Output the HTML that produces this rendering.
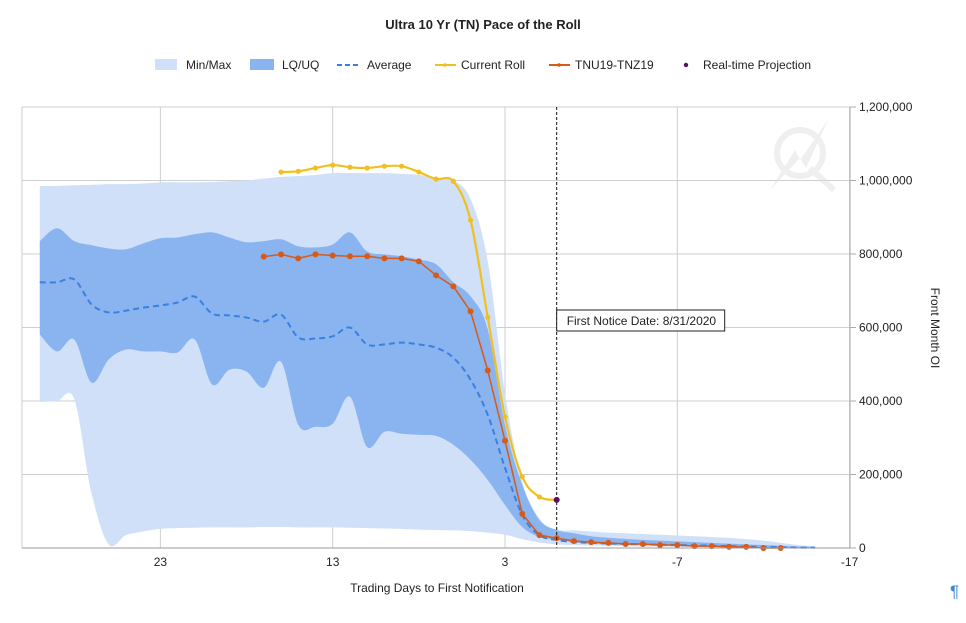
<!DOCTYPE html>
<html><head><meta charset="utf-8"><style>
body{margin:0;background:#fff;font-family:"Liberation Sans",Arial,sans-serif}
svg text{font-family:"Liberation Sans",Arial,sans-serif}
</style></head><body>
<svg id="c" width="966" height="618" xmlns="http://www.w3.org/2000/svg">
<text x="483" y="29" text-anchor="middle" font-size="13" font-weight="bold" fill="#222">Ultra 10 Yr (TN) Pace of the Roll</text>
<g id="legend" font-size="12" fill="#222">
<g><rect x="155" y="59" width="22" height="11" fill="#cfe0f8"/><text x="186" y="69">Min/Max</text></g>
<g><rect x="250" y="59" width="24" height="11" fill="#8ab4f0"/><text x="282" y="69">LQ/UQ</text></g>
<g><line x1="337" y1="65" x2="361" y2="65" stroke="#3a80e0" stroke-width="2" stroke-dasharray="5,3"/><text x="367" y="69">Average</text></g>
<g><line x1="435" y1="65" x2="456" y2="65" stroke="#f0c020" stroke-width="2"/><circle cx="445" cy="65" r="1.8" fill="#f0c020"/><text x="461" y="69">Current Roll</text></g>
<g><line x1="549" y1="65" x2="570" y2="65" stroke="#d85a18" stroke-width="2"/><circle cx="559" cy="65" r="1.8" fill="#d85a18"/><text x="575" y="69">TNU19-TNZ19</text></g>
<g><circle cx="686" cy="65" r="2.2" fill="#5a1060"/><text x="703" y="69">Real-time Projection</text></g>
</g>
<g id="grid"></g>
<g opacity="0.45">
<circle cx="800" cy="153" r="23" fill="none" stroke="#ddd" stroke-width="6"/>
<path d="M770 190 L795 150 L800 160 L828 120 L806 168 L800 158 Z" fill="#ddd"/>
<line x1="810" y1="168" x2="834" y2="190" stroke="#ddd" stroke-width="6"/>
</g>
<g id="plot"></g>
<g id="axes"></g>
<text x="437" y="592" text-anchor="middle" font-size="12" fill="#222">Trading Days to First Notification</text>
<text transform="translate(931,328) rotate(90)" text-anchor="middle" font-size="12" fill="#222">Front Month OI</text>
<text x="950" y="597" font-size="17" fill="#3a8ad0">¶</text>
</svg>
<script>
const days=[30,29,28,27,26,25,24,23,22,21,20,19,18,17,16,15,14,13,12,11,10,9,8,7,6,5,4,3,2,1,0,-1,-2,-3,-4,-5,-6,-7,-8,-9,-10,-11,-12,-13,-14,-15];
const maxV=[985,985,987,988,990,990,992,995,995,995,996,998,1000,1005,1010,1012,1015,1020,1020,1020,1020,1018,1015,1008,1000,950,780,420,180,80,50,48,45,42,40,38,36,34,32,30,28,24,20,14,8,4];
const minV=[397,400,405,150,10,35,45,52,54,55,56,56,56,57,57,56,56,56,55,54,53,52,50,49,48,46,42,36,24,15,10,8,7,6,5,4,4,3,3,2,2,1,1,1,0,0];
const uqV=[835,870,835,824,815,813,829,843,845,854,859,845,832,835,840,821,818,826,859,807,799,794,785,772,723,685,595,335,172,76,49,40,32,28,25,22,20,18,16,14,12,10,8,6,4,3];
const lqV=[581,535,567,450,513,540,535,535,532,567,445,485,480,436,507,335,330,338,412,275,316,311,308,305,281,240,185,117,57,30,22,15,12,10,9,8,7,6,5,4,3,3,2,1,1,0];
const avgV=[723,723,731,663,641,646,654,660,668,684,638,633,627,616,635,573,570,576,600,554,554,559,554,545,518,458,362,218,90,35,22,16,14,12,11,10,9,8,7,6,5,4,3,2,1,1];
const rollDays=[17,16,15,14,13,12,11,10,9,8,7,6,5,4,3,2,1,0,-1,-2,-3,-4,-5,-6,-7,-8,-9,-10,-11,-12,-13];
const rollV=[793,799,788,799,796,794,794,788,788,780,742,712,644,483,292,93,35,27,19,16,14,11,11,8,8,5,5,3,3,0,0];
const curDays=[16,15,14,13,12,11,10,9,8,7,6,5,4,3,2,1];
const curV=[1023,1025,1034,1042,1036,1034,1039,1039,1023,1004,998,892,627,357,194,139];
const projDays=[0];
const projV=[131];
const yTicks=[0,200000,400000,600000,800000,1000000,1200000];
const xTicks=[23,13,3,-7,-17];
const noticeDay=0;

const X0=22,X1=850,Y0=548,Y1=107;
const x=d=>505+(3-d)*17.23;
const y=v=>Y0-(v*1000)/1200000*(Y0-Y1);
const yRaw=v=>Y0-v/1200000*(Y0-Y1);
const NS="http://www.w3.org/2000/svg";
function mk(tag,attrs,parent){const e=document.createElementNS(NS,tag);for(const k in attrs)e.setAttribute(k,attrs[k]);parent.appendChild(e);return e;}
function smooth(pts){let d=`M${pts[0][0]},${pts[0][1]}`;for(let i=0;i<pts.length-1;i++){const p0=pts[Math.max(0,i-1)],p1=pts[i],p2=pts[i+1],p3=pts[Math.min(pts.length-1,i+2)];const c1=[p1[0]+(p2[0]-p0[0])/6,p1[1]+(p2[1]-p0[1])/6],c2=[p2[0]-(p3[0]-p1[0])/6,p2[1]-(p3[1]-p1[1])/6];d+=` C${c1[0]},${c1[1]} ${c2[0]},${c2[1]} ${p2[0]},${p2[1]}`;}return d;}
function smoothCont(pts){return smooth(pts).replace(/^M/,'L');}
const grid=document.getElementById('grid'),plot=document.getElementById('plot'),axes=document.getElementById('axes');
yTicks.forEach(t=>{const l=mk('line',{x1:X0,x2:X1,y1:yRaw(t),y2:yRaw(t),stroke:'#cfcfcf','stroke-width':1},grid);


mk('line',{x1:X1,x2:X1+6,y1:yRaw(t),y2:yRaw(t),stroke:'#aaa'},axes);
const tx=mk('text',{x:X1+9,y:yRaw(t)+4,'font-size':12,fill:'#222'},axes);tx.textContent=t.toLocaleString('en-US');

});
xTicks.forEach(t=>{const l=mk('line',{x1:x(t),x2:x(t),y1:Y1,y2:Y0,stroke:'#cfcfcf'},grid);


const tx=mk('text',{x:x(t),y:Y0+18,'font-size':12,fill:'#222','text-anchor':'middle'},axes);tx.textContent=t;

});
mk('line',{x1:X0,x2:X0,y1:Y1,y2:Y0,stroke:'#cfcfcf'},grid);
mk('line',{x1:X1,x2:X1,y1:Y1,y2:Y0,stroke:'#aaa'},axes);
mk('line',{x1:X0,x2:X1,y1:Y0,y2:Y0,stroke:'#999'},axes);
function band(up,lo,fill,name){const top=days.map((d,i)=>[x(d),y(up[i])]);const bot=days.map((d,i)=>[x(d),y(lo[i])]).reverse();
const p=mk('path',{d:smooth(top)+' '+smoothCont(bot)+' Z',fill:fill},plot);

}
band(maxV,minV,'#cfe0f8','min-max-band');
band(uqV,lqV,'#8ab4f0','lq-uq-band');
const avg=mk('path',{d:smooth(days.map((d,i)=>[x(d),y(avgV[i])])),fill:'none',stroke:'#3a80e0','stroke-width':2,'stroke-dasharray':'6,4'},plot);


const cp=curDays.map((d,i)=>[x(d),y(curV[i])]);cp.push([x(projDays[0]),y(projV[0])]);
const cur=mk('path',{d:smooth(cp),fill:'none',stroke:'#f0c020','stroke-width':2.2},plot);


curDays.forEach((d,i)=>{const c=mk('circle',{cx:x(d),cy:y(curV[i]),r:2.6,fill:'#f0c020'},plot);

});
const rl=mk('polyline',{points:rollDays.map((d,i)=>x(d)+','+y(rollV[i])).join(' '),fill:'none',stroke:'#d85a18','stroke-width':1.5},plot);


rollDays.forEach((d,i)=>{const c=mk('circle',{cx:x(d),cy:y(rollV[i]),r:3,fill:'#d85a18'},plot);

});
const nl=mk('line',{x1:x(noticeDay),x2:x(noticeDay),y1:Y1,y2:Y0,stroke:'#111','stroke-dasharray':'3,2'},plot);


projDays.forEach((d,i)=>{const c=mk('circle',{cx:x(d),cy:y(projV[i]),r:3,fill:'#5a1060'},plot);

});
const bx=mk('rect',{x:x(noticeDay),y:310,width:168,height:21,fill:'#fff',stroke:'#222'},plot);


const bt=mk('text',{x:x(noticeDay)+10,y:325,'font-size':12,fill:'#222'},plot);bt.textContent='First Notice Date: 8/31/2020';


</script>
</body></html>
